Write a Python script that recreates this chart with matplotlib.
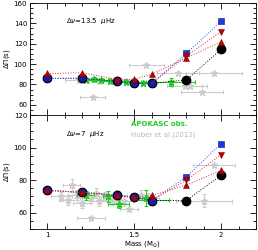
import matplotlib
matplotlib.use("Agg")
import matplotlib.pyplot as plt
from matplotlib.ticker import MultipleLocator, FixedLocator

plt.rcParams['font.family'] = ['DejaVu Sans']
plt.rcParams['font.size'] = 5
plt.rcParams['mathtext.fontset'] = 'dejavusans'

# ---- model tracks ----
masses = [1.0, 1.2, 1.4, 1.5, 1.6, 1.8, 2.0]
# top panel (dnu = 13.5 muHz)
top_blue = [86, 86, 83, 81, 81, 110.5, 142]
top_black = [86, 86, 83, 81, 81, 84.5, 114.5]
top_red_up = [90.8, 91.5, 85, 85, 90, 106, 122]
top_red_dn_m = [1.6, 1.8, 2.0]
top_red_dn = [81, 108, 132]
# bottom panel (dnu = 7 muHz)
bot_blue = [73.7, 72.5, 70.6, 69.4, 67.5, 82, 102.5]
bot_black = [73.7, 72.5, 70.6, 69.4, 67.5, 67.5, 83]
bot_red_up = [73.7, 72.5, 70.6, 69.4, 70.6, 77, 86]
bot_red_dn_m = [1.6, 1.8, 2.0]
bot_red_dn = [67.5, 80, 95.6]

# ---- observations: APOKASC (green) ----
top_apo_m = [1.22, 1.27, 1.31, 1.36, 1.40, 1.45, 1.50, 1.55, 1.71]
top_apo_dp = [84, 85, 84, 83, 83, 82, 82, 81.5, 82]
top_apo_me = [0.04, 0.04, 0.04, 0.04, 0.04, 0.04, 0.04, 0.04, 0.14]
top_apo_de = [2, 2, 2, 2, 2, 2, 2, 2, 4]
bot_apo_m = [1.22, 1.35, 1.41, 1.57, 1.60]
bot_apo_dp = [70.6, 70, 65.6, 69, 68]
bot_apo_me = [0.05, 0.03, 0.06, 0.04, 0.1]
bot_apo_de = [3, 3.5, 3, 5, 3]

# ---- observations: Huber et al. (2013) (gray) ----
top_hub_m = [1.18, 1.30, 1.45, 1.26, 1.57, 1.75, 1.96, 1.79, 1.82, 1.89]
top_hub_dp = [84, 83, 83, 68, 98.7, 91, 91, 78, 78, 73]
top_hub_me = [0.08, 0.06, 0.06, 0.07, 0.1, 0.12, 0.16, 0.1, 0.1, 0.12]
top_hub_de = [2, 2, 2, 0, 0, 0, 0, 0, 0, 0]
bot_hub_m = [1.14, 1.08, 1.12, 1.17, 1.20, 1.25, 1.28, 1.30, 1.33, 1.37,
             1.40, 1.44, 1.25, 1.47, 1.54, 1.58, 1.90, 1.96]
bot_hub_dp = [77, 70, 68, 71, 66, 69, 72, 67, 70, 68,
              71, 67, 57, 62.5, 71, 69, 67.5, 89]
bot_hub_me = [0.05, 0.06, 0.05, 0.05, 0.05, 0.06, 0.05, 0.06, 0.05, 0.05,
              0.06, 0.05, 0.08, 0.05, 0.06, 0.06, 0.16, 0.12]
bot_hub_de = [4, 3, 3, 3, 3, 3, 3, 3, 3, 3,
              3, 3, 0, 0, 3, 3, 4, 0]

fig = plt.figure(figsize=(2.58, 2.5), dpi=100)
ax1 = fig.add_axes([0.116, 0.54, 0.876, 0.448])
ax2 = fig.add_axes([0.116, 0.084, 0.876, 0.456], sharex=ax1)

GREEN = '#22cc22'
GRAY = '#cccccc'
BLUE_C = '#1a1aa0'
BLUE_S = '#1a3ae0'
RED = '#c00000'


def panel(ax, blue, black, red_up, rdm, red_dn,
          am, adp, ame, ade, hm, hdp, hme, hde):
    ax.errorbar(hm, hdp, xerr=hme, yerr=hde, fmt='*', color=GRAY, ms=5,
                mec=GRAY, elinewidth=0.8, capsize=1.5, capthick=0.8, zorder=1)
    ax.errorbar(am, adp, xerr=ame, yerr=ade, fmt='*', color=GREEN, ms=5,
                mec=GREEN, elinewidth=0.8, capsize=1.5, capthick=0.8, zorder=2)
    # black
    ax.plot(masses, black, ':', color='black', lw=0.7, zorder=3)
    ax.plot(masses, black, 'o', color='black', ms=6, zorder=3)
    # blue
    ax.plot(masses, blue, ':', color='#3a4aff', lw=0.7, zorder=4)
    ax.plot(masses[:5], blue[:5], 'o', color=BLUE_C, mec='black', mew=0.5, ms=6, zorder=4)
    ax.plot(masses[5:], blue[5:], 's', color=BLUE_S, mec='#101080', mew=0.4, ms=4, zorder=4)
    # red
    ax.plot(rdm, red_dn, ':', color='#e03030', lw=0.7, zorder=5)
    ax.plot(rdm[1:], red_dn[1:], 'v', color=RED, mec='#800000', mew=0.4, ms=4, zorder=5)
    ax.plot(masses, red_up, ':', color='#e03030', lw=0.7, zorder=5)
    ax.plot(masses, red_up, '^', color=RED, mec='#800000', mew=0.4, ms=4, zorder=6)

    ax.tick_params(which='both', direction='in', top=True, right=True,
                   labelsize=5, width=0.6, pad=2)
    ax.tick_params(which='major', length=4)
    ax.tick_params(which='minor', length=2)
    ax.xaxis.set_major_locator(FixedLocator([1.0, 1.5, 2.0]))
    ax.xaxis.set_minor_locator(MultipleLocator(0.1))
    ax.yaxis.set_minor_locator(MultipleLocator(5))
    for s in ax.spines.values():
        s.set_linewidth(0.6)
    ax.set_ylabel(r'$\Delta\Pi$(s)', fontsize=5, labelpad=1)


panel(ax1, top_blue, top_black, top_red_up, top_red_dn_m, top_red_dn,
      top_apo_m, top_apo_dp, top_apo_me, top_apo_de,
      top_hub_m, top_hub_dp, top_hub_me, top_hub_de)
panel(ax2, bot_blue, bot_black, bot_red_up, bot_red_dn_m, bot_red_dn,
      bot_apo_m, bot_apo_dp, bot_apo_me, bot_apo_de,
      bot_hub_m, bot_hub_dp, bot_hub_me, bot_hub_de)

ax1.set_xlim(0.9, 2.2)
ax1.set_ylim(50, 160)
ax2.set_ylim(50, 120)
ax1.yaxis.set_major_locator(FixedLocator([60, 80, 100, 120, 140, 160]))
ax2.yaxis.set_major_locator(FixedLocator([60, 80, 100, 120]))
plt.setp(ax1.get_xticklabels(), visible=False)
ax2.set_xticklabels(['1', '1.5', '2'])
ax2.set_xlabel(r'Mass (M$_{\odot}$)', fontsize=5, labelpad=1)

ax1.text(0.16, 0.84, r'$\Delta\nu$=13.5  $\mu$Hz', transform=ax1.transAxes,
         fontsize=5, va='center')
ax2.text(0.16, 0.83, r'$\Delta\nu$=7  $\mu$Hz', transform=ax2.transAxes,
         fontsize=5, va='center')
ax2.text(0.445, 0.92, 'APOKASC obs.', transform=ax2.transAxes,
         fontsize=5, color=GREEN, va='center', fontweight='bold')
ax2.text(0.445, 0.83, 'Huber et al.(2013)', transform=ax2.transAxes,
         fontsize=5, color='#b8b8b8', va='center')

fig.savefig('out.png', dpi=100)
